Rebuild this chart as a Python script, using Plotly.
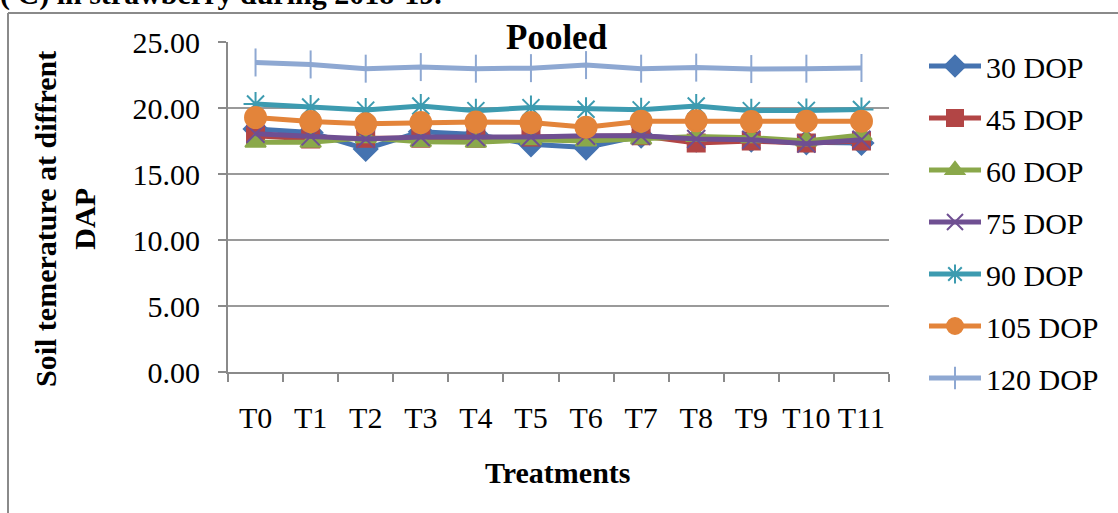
import plotly.graph_objects as go

# Treatments on the x axis
treatments = ["T0", "T1", "T2", "T3", "T4", "T5", "T6", "T7", "T8", "T9", "T10", "T11"]

# Pooled soil temperature (°C) for each sampling date (days of planting)
dop_30 = [18.4, 18.15, 16.9, 18.2, 18.0, 17.25, 17.0, 17.9, 17.6, 17.6, 17.4, 17.35]
dop_45 = [17.9, 17.65, 17.7, 17.7, 17.7, 17.8, 17.85, 17.9, 17.35, 17.5, 17.35, 17.5]
dop_60 = [17.4, 17.4, 17.75, 17.45, 17.4, 17.6, 17.5, 17.65, 17.85, 17.75, 17.5, 17.95]
dop_75 = [18.05, 17.85, 17.65, 17.8, 17.8, 17.8, 17.9, 17.9, 17.65, 17.6, 17.3, 17.6]
dop_90 = [20.3, 20.08, 19.84, 20.15, 19.8, 20.03, 19.9, 19.86, 20.15, 19.8, 19.82, 19.88]
dop_105 = [19.28, 18.97, 18.8, 18.9, 18.93, 18.9, 18.55, 19.0, 19.03, 18.97, 19.0, 19.0]
dop_120 = [23.45, 23.3, 22.98, 23.1, 22.98, 23.02, 23.25, 22.98, 23.06, 22.95, 22.98, 23.03]

series_names = ["30 DOP", "45 DOP", "60 DOP", "75 DOP", "90 DOP", "105 DOP", "120 DOP"]
series_values = [dop_30, dop_45, dop_60, dop_75, dop_90, dop_105, dop_120]
series_colors = ["#4573B0", "#B24545", "#8AA84A", "#6F4F92", "#3D9BB0", "#E3843A", "#8EA8D2"]
series_symbols = ["diamond", "square", "triangle-up", "x-thin-open", "asterisk-open",
                  "circle", "line-ns-open"]
series_sizes = [18, 17, 18, 18, 20, 21, 20]

FONT = "Liberation Serif, Times New Roman, serif"
FS = 30

fig = go.Figure()
for name, vals, col, sym, sz in zip(series_names, series_values, series_colors,
                                    series_symbols, series_sizes):
    fig.add_trace(go.Scatter(
        x=treatments, y=vals, name=name, legendgroup=name,
        mode="lines+markers",
        line=dict(color=col, width=5),
        marker=dict(symbol=sym, size=sz, color=col,
                    line=dict(color=col, width=2)),
    ))

axis_grey = "#8A8A8A"

fig.update_layout(
    width=1118, height=513,
    margin=dict(l=228, r=229, t=42, b=141, autoexpand=False),
    paper_bgcolor="white", plot_bgcolor="white",
    font=dict(family=FONT, size=FS, color="black"),
    showlegend=True,
    legend=dict(x=(924 - 228) / 661, xanchor="left",
                y=(372 - 40) / 330, yanchor="top",
                maxheight=500, itemwidth=52,
                font=dict(family=FONT, size=FS, color="black"),
                tracegroupgap=10, bgcolor="rgba(0,0,0,0)"),
    xaxis=dict(
        type="category", range=[-0.5, 11.5],
        showline=True, linecolor=axis_grey, linewidth=2,
        ticks="outside", ticklen=8, tickwidth=1.5, tickcolor=axis_grey,
        tickson="boundaries", showgrid=False, tickangle=0,
        ticklabelstandoff=18,
        tickfont=dict(family=FONT, size=FS, color="black"),
    ),
    yaxis=dict(
        range=[0, 25], dtick=5, tickformat=".2f",
        showline=True, linecolor=axis_grey, linewidth=2,
        ticks="outside", ticklen=8, tickwidth=1.5, tickcolor=axis_grey,
        showgrid=True, gridcolor="#9A9A9A", gridwidth=1.5,
        zeroline=False, ticklabelstandoff=12,
        tickfont=dict(family=FONT, size=FS, color="black"),
    ),
)

annotations = [
    dict(text="<b>Pooled</b>", x=(557 - 228) / 661, y=(372 - 38) / 330,
         xref="paper", yref="paper",
         xanchor="center", yanchor="middle", showarrow=False,
         font=dict(family=FONT, size=35, color="black")),
    dict(text="<b>Treatments</b>", x=(558 - 228) / 661, y=(372 - 472) / 330,
         xref="paper", yref="paper",
         xanchor="center", yanchor="middle", showarrow=False,
         font=dict(family=FONT, size=FS, color="black")),
    dict(text="<b>Soil temerature at diffrent<br>DAP</b>", x=(65 - 228) / 661,
         y=(372 - 219) / 330, xref="paper", yref="paper",
         xanchor="center", yanchor="middle", textangle=-90, showarrow=False,
         font=dict(family=FONT, size=FS, color="black")),
    dict(text="<b>( C) in strawberry during 2018-19.</b>", x=(-2 - 228) / 661,
         y=(372 + 6) / 330, xref="paper", yref="paper",
         xanchor="left", yanchor="middle", showarrow=False,
         font=dict(family=FONT, size=FS, color="black")),
]
fig.update_layout(annotations=annotations)

# Frame of the chart area (left and top edges)
frame_x = (8 - 228) / 661
frame_top = (372 - 13) / 330
fig.add_shape(type="line", xref="paper", yref="paper",
              x0=frame_x, x1=frame_x, y0=-141 / 330, y1=frame_top,
              line=dict(color=axis_grey, width=2))
fig.add_shape(type="line", xref="paper", yref="paper",
              x0=frame_x, x1=(1118 - 228) / 661 + 0.01, y0=frame_top, y1=frame_top,
              line=dict(color=axis_grey, width=2))

fig.write_html("out.html")
